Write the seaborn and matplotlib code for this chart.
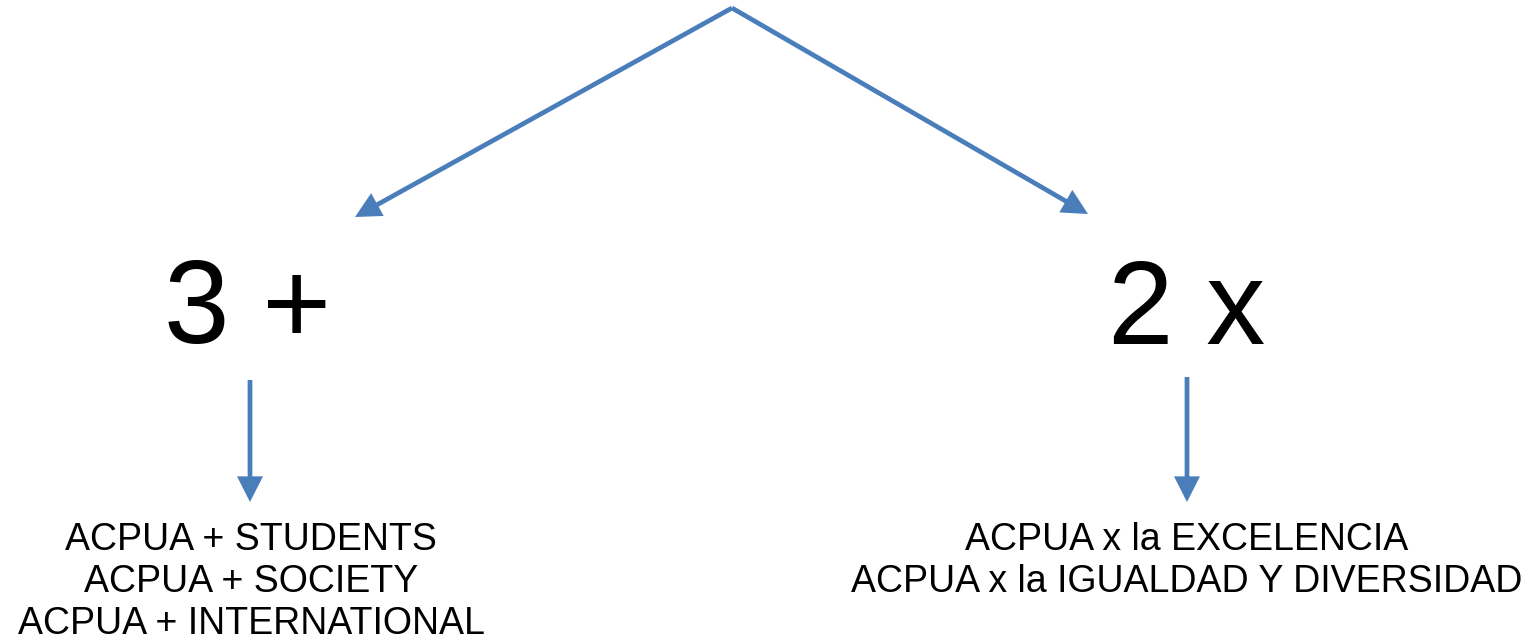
import matplotlib
matplotlib.use('Agg')
import matplotlib.pyplot as plt
import seaborn as sns

# diagram content
root = (732, 8)
branch_labels = ['3 +', '2 x']
branch_pos = [(248, 313), (1187, 313)]
arrow_tips = [(355, 217), (1088, 214)]
down_arrows = [((250, 380), (250, 502)), ((1187, 377), (1187, 502))]
detail_lines = [
    ['ACPUA + STUDENTS', 'ACPUA + SOCIETY', 'ACPUA + INTERNATIONAL'],
    ['ACPUA x la EXCELENCIA', 'ACPUA x la IGUALDAD Y DIVERSIDAD'],
]
detail_pos = [(251, 582), (1187, 561)]

blue = '#4a7ebb'

sns.set_style('white')
plt.rcParams['font.family'] = ['Liberation Sans', 'DejaVu Sans']
plt.rcParams['text.color'] = 'black'

fig = plt.figure(figsize=(15.35, 6.4), dpi=100)
ax = fig.add_axes([0, 0, 1, 1])
ax.set_xlim(0, 1535)
ax.set_ylim(640, 0)
ax.axis('off')

arrow_kw = dict(arrowstyle='-|>,head_length=0.65,head_width=0.33',
                color=blue, lw=3.4, mutation_scale=20,
                shrinkA=0, shrinkB=0, joinstyle='miter', capstyle='butt')

# top split
for tip in arrow_tips:
    ax.annotate('', xy=tip, xytext=root, arrowprops=arrow_kw)

# branch labels
for lab, (x, y) in zip(branch_labels, branch_pos):
    ax.text(x, y, lab, fontsize=85, ha='center', va='center')

# down arrows
for start, end in down_arrows:
    ax.annotate('', xy=end, xytext=start, arrowprops=arrow_kw)

# details
for lines, (x, y) in zip(detail_lines, detail_pos):
    ax.text(x, y, '\n'.join(lines), fontsize=27, ha='center', va='center',
            linespacing=1.22)

plt.savefig('out.png', dpi=100)
